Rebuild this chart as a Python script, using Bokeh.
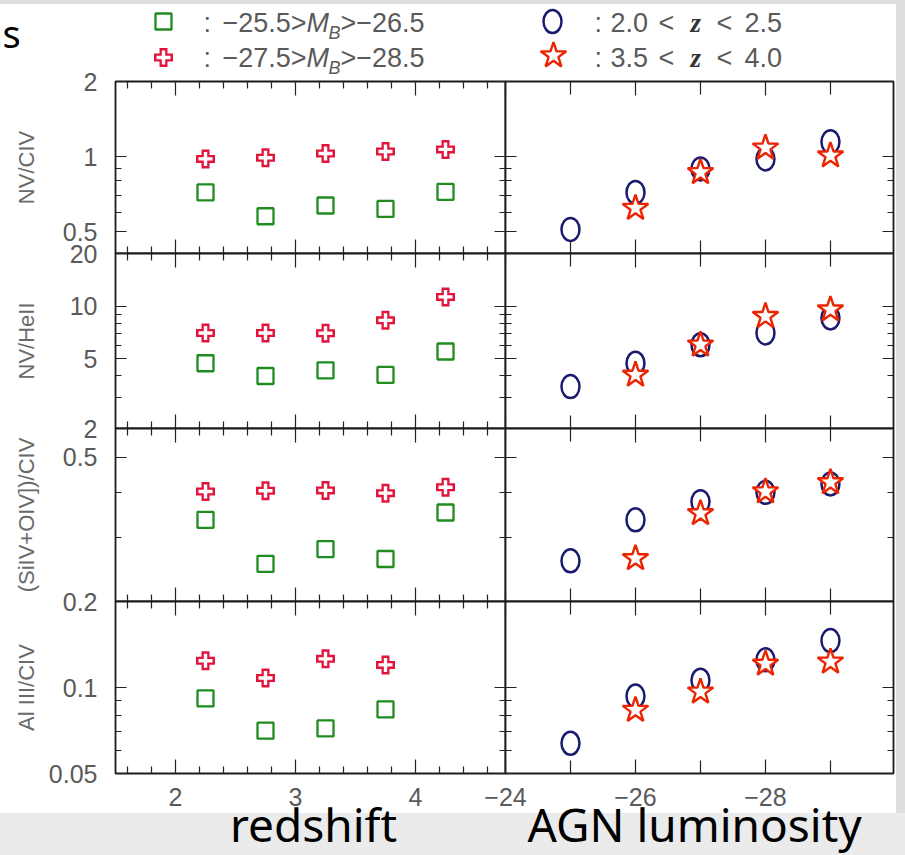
from bokeh.plotting import figure
from bokeh.layouts import row, column
from bokeh.models import Range1d, LinearAxis, LogAxis, FixedTicker
from bokeh.core.properties import value
from bokeh.embed import file_html
from bokeh.resources import INLINE

# ---------------- data ----------------
redshift_bins = [2.25, 2.75, 3.25, 3.75, 4.25]
mag_bins = [-25, -26, -27, -28, -29]

row_titles = ["NV/CIV", "NV/HeII", "(SiIV+OIV])/CIV", "Al III/CIV"]

# left column: -25.5>MB>-26.5 (squares) and -27.5>MB>-28.5 (crosses) vs redshift
nv_civ_faint = [0.72, 0.578, 0.638, 0.618, 0.724]
nv_civ_bright = [0.98, 0.99, 1.03, 1.05, 1.07]
nv_heii_faint = [4.72, 3.99, 4.30, 4.05, 5.51]
nv_heii_bright = [7.03, 7.03, 7.00, 8.30, 11.3]
siiv_faint = [0.336, 0.254, 0.279, 0.262, 0.352]
siiv_bright = [0.402, 0.404, 0.405, 0.398, 0.413]
aliii_faint = [0.0916, 0.0706, 0.0719, 0.0838, None]
aliii_bright = [0.124, 0.108, 0.126, 0.120, None]

# right column: 2.0<z<2.5 (circles) and 3.5<z<4.0 (stars) vs luminosity
nv_civ_lowz = [0.512, 0.72, 0.894, 0.98, 1.147]
nv_civ_highz = [None, 0.623, 0.866, 1.086, 1.01]
nv_heii_lowz = [3.47, 4.72, 6.02, 7.03, 8.57]
nv_heii_highz = [None, 4.05, 6.02, 8.76, 9.56]
siiv_lowz = [0.259, 0.336, 0.377, 0.400, 0.422]
siiv_highz = [None, 0.263, 0.350, 0.402, 0.426]
aliii_lowz = [0.0638, 0.0933, 0.106, 0.125, 0.146]
aliii_highz = [None, 0.0834, 0.0966, 0.121, 0.123]

faint = [nv_civ_faint, nv_heii_faint, siiv_faint, aliii_faint]
bright = [nv_civ_bright, nv_heii_bright, siiv_bright, aliii_bright]
lowz = [nv_civ_lowz, nv_heii_lowz, siiv_lowz, aliii_lowz]
highz = [nv_civ_highz, nv_heii_highz, siiv_highz, aliii_highz]

y_ranges = [(0.41, 2.0), (2.0, 20.0), (0.2, 0.6), (0.05, 0.2)]
y_major = [[0.5, 1, 2], [2, 5, 10, 20], [0.2, 0.5], [0.05, 0.1]]
y_major_labels = [["0.5", "1", "2"], ["2", "5", "10", "20"], ["0.2", "0.5"], ["0.05", "0.1"]]
y_minor = [[0.6, 0.7, 0.8, 0.9], [3, 4, 6, 7, 8, 9], [0.3, 0.4], [0.06, 0.07, 0.08, 0.09]]

z_range = (1.5, 4.75)
z_major = [2, 3, 4]
z_major_labels = ["2", "3", "4"]
z_minor = [1.6, 1.8, 2.2, 2.4, 2.6, 2.8, 3.2, 3.4, 3.6, 3.8, 4.2, 4.4, 4.6]

mag_range = (-24, -29.97)
mag_major = [-24, -26, -28]
mag_major_labels = ["\u221224", "\u221226", "\u221228"]
mag_minor = [-25, -27, -29]

legend_faint = ["\u221225.5>", "M", "B", ">\u221226.5"]
legend_bright = ["\u221227.5>", "M", "B", ">\u221228.5"]
legend_lowz = ["2.0", "<", "z", "<", "2.5"]
legend_highz = ["3.5", "<", "z", "<", "4.0"]

x_titles = ["redshift", "AGN luminosity"]

# ---------------- styles ----------------
GREEN = "#1f8c1f"
RED = "#e3143c"
NAVY = "#1a1a6e"
STAR = "#ec2400"
TXT = "#5a5a5a"
FONT = "Liberation Sans"
P = 50
frame_h = [172, 175, 173, 172]
title_standoff = [21, 28, 21, 7]


def pick(xs, ys):
    pairs = [(x, y) for x, y in zip(xs, ys) if y is not None]
    return [a for a, _ in pairs], [b for _, b in pairs]


def style_axis(ax, labeled, ticks, labels, major_len, minor_len):
    ax.axis_line_color = None
    ax.major_tick_out = 0
    ax.minor_tick_out = 0
    ax.major_tick_in = major_len
    ax.minor_tick_in = minor_len
    ax.major_tick_line_color = "#222222"
    ax.minor_tick_line_color = "#222222"
    ax.major_tick_line_width = 1.2
    ax.minor_tick_line_width = 1.2
    ax.major_label_overrides = {float(t): s for t, s in zip(ticks, labels)}
    if labeled:
        ax.major_label_text_font = FONT
        ax.major_label_text_font_size = "25px"
        ax.major_label_text_color = TXT
    else:
        ax.major_label_text_font_size = "1px"
        ax.major_label_text_color = None
        ax.major_label_standoff = 0


def add_cross(p, xs, ys):
    p.scatter(xs, ys, marker="cross", size=19, line_color=RED, line_width=8)
    p.scatter(xs, ys, marker="cross", size=14, line_color="white", line_width=3.4)


def make_panel(r, col):
    left = col == 0
    lo, hi = y_ranges[r]
    if left:
        xr = Range1d(*z_range)
        fw, mbl, mbr = 390, 115, 10
    else:
        xr = Range1d(*mag_range)
        fw, mbl, mbr = 388, 30, 12
    p = figure(frame_width=fw, frame_height=frame_h[r], x_range=xr,
               y_range=Range1d(lo, hi), x_axis_type=None, y_axis_type="log",
               y_axis_location=None, output_backend="svg", toolbar_location=None,
               min_border_left=mbl, min_border_right=mbr,
               min_border_top=P, min_border_bottom=P,
               background_fill_color="white", border_fill_color=None,
               outline_line_color="#1a1a1a", outline_line_width=1.8)
    p.grid.visible = False

    for side in ("left", "right"):
        labeled = left and side == "left"
        ax = LogAxis(ticker=FixedTicker(ticks=y_major[r], minor_ticks=y_minor[r]))
        style_axis(ax, labeled, y_major[r], y_major_labels[r], 11, 6)
        if labeled:
            ax.major_label_standoff = 18
            ax.axis_label = row_titles[r]
            ax.axis_label_text_font = FONT
            ax.axis_label_text_font_size = "22px"
            ax.axis_label_text_font_style = "normal"
            ax.axis_label_text_color = "#6a6a6a"
            ax.axis_label_standoff = title_standoff[r]
        p.add_layout(ax, side)

    if left:
        ticks, minors, labels, mlen = z_major, z_minor, z_major_labels, 7
    else:
        ticks, minors, labels, mlen = mag_major, mag_minor, mag_major_labels, 13
    for side in ("above", "below"):
        labeled = side == "below" and r == 3
        ax = LinearAxis(ticker=FixedTicker(ticks=ticks, minor_ticks=minors))
        style_axis(ax, labeled, ticks, labels, 14, mlen)
        if labeled:
            ax.major_label_standoff = 14
        p.add_layout(ax, side)

    if left:
        xs, ys = pick(redshift_bins, faint[r])
        p.scatter(xs, ys, marker="square", size=16, line_color=GREEN,
                  line_width=2.3, fill_color=None)
        xs, ys = pick(redshift_bins, bright[r])
        add_cross(p, xs, ys)
    else:
        xs, ys = pick(mag_bins, lowz[r])
        p.ellipse(xs, ys, width=18, height=23, width_units="screen",
                  height_units="screen", fill_color=None, line_color=NAVY,
                  line_width=2.5)
        xs, ys = pick(mag_bins, highz[r])
        p.scatter(xs, ys, marker="star", size=27, line_color=STAR,
                  line_width=2.4, fill_color="white")
    return p


# ---------------- legend ----------------
leg = figure(frame_width=905, frame_height=81, x_range=Range1d(0, 905),
             y_range=Range1d(81, 0), x_axis_location=None, y_axis_location=None,
             output_backend="svg", toolbar_location=None, min_border=0,
             background_fill_color=None, border_fill_color=None,
             outline_line_color=None)
leg.grid.visible = False

leg.text(x=[2], y=[32], text=["s"], text_font=value("Noto Sans"),
         text_font_size=value("38px"), text_color="black", text_baseline="middle")

leg.scatter([163], [21], marker="square", size=16, line_color=GREEN,
            line_width=2.3, fill_color=None)
add_cross(leg, [163], [57])
leg.ellipse([552], [21], width=18, height=23, width_units="screen",
            height_units="screen", fill_color=None, line_color=NAVY, line_width=2.5)
leg.scatter([553], [55], marker="star", size=27, line_color=STAR,
            line_width=2.4, fill_color="white")

common = dict(text_font=value(FONT), text_color=TXT, text_baseline="middle")
for base, parts in ((22, legend_faint), (57, legend_bright)):
    leg.text(x=[203], y=[base], text=[":"], text_font_size=value("27px"), **common)
    leg.text(x=[222], y=[base], text=[parts[0]], text_font_size=value("27px"), **common)
    leg.text(x=[306], y=[base], text=[parts[1]], text_font_size=value("27px"),
             text_font_style="italic", **common)
    leg.text(x=[328], y=[base + 10], text=[parts[2]], text_font_size=value("18px"),
             text_font_style="italic", **common)
    leg.text(x=[340], y=[base], text=[parts[3]], text_font_size=value("27px"), **common)

for base, parts in ((22, legend_lowz), (57, legend_highz)):
    leg.text(x=[594], y=[base], text=[":"], text_font_size=value("27px"), **common)
    for xx, part in zip([610, 658, 690, 716, 744], parts):
        if part == "z":
            leg.text(x=[xx], y=[base], text=[part], text_font=value("Liberation Serif"),
                     text_font_size=value("27px"), text_font_style="bold italic",
                     text_color="#333333", text_baseline="middle")
        else:
            leg.text(x=[xx], y=[base], text=[part], text_font_size=value("27px"), **common)

# ---------------- panels ----------------
rows = []
for r in range(4):
    lp = make_panel(r, 0)
    rp = make_panel(r, 1)
    rp.margin = (0, 0, 0, -40)
    rw = row(lp, rp)
    rw.margin = (-P if r == 0 else -2 * P, 0, 0, 0)
    rows.append(rw)

# ---------------- bottom titles ----------------
bot = figure(frame_width=905, frame_height=66, x_range=Range1d(0, 905),
             y_range=Range1d(66, 0), x_axis_location=None, y_axis_location=None,
             output_backend="svg", toolbar_location=None, min_border=0,
             background_fill_color=None, border_fill_color=None,
             outline_line_color=None)
bot.grid.visible = False
bot.text(x=[313], y=[34], text=[x_titles[0]], text_font=value("Noto Sans"),
         text_font_size=value("46px"), text_color="black", text_align="center",
         text_baseline="middle")
bot.text(x=[527], y=[34], text=[x_titles[1]], text_font=value("Noto Sans"),
         text_font_size=value("46px"), text_color="black", text_align="left",
         text_baseline="middle")
bot.margin = (-34, 0, 0, 0)

layout = column(leg, *rows, bot)
layout.styles = {
    "background-color": "white",
    "box-shadow": "inset 0 -42px 0 0 #ebebeb, inset -9px 0 0 0 #dedede, inset 0 4px 0 0 #dedede",
}

open("out.html", "w").write(file_html(layout, INLINE))
